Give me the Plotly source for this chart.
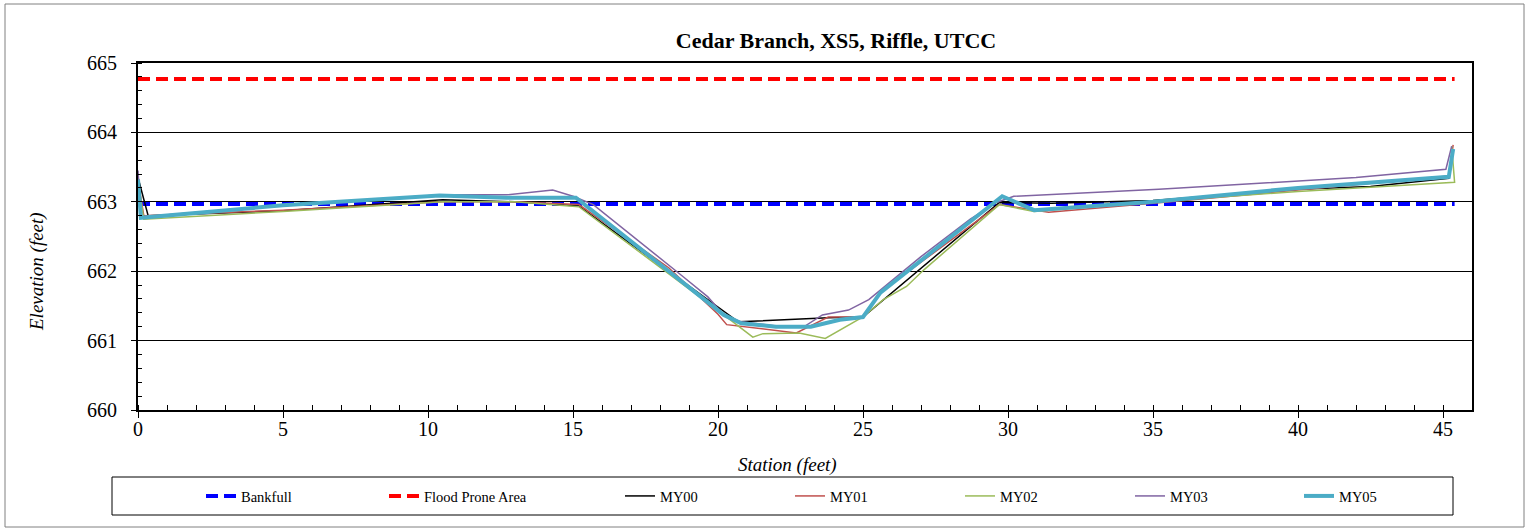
import plotly.graph_objects as go

# ---------------- data ----------------
bankfull_x = [0, 45.4]
bankfull_y = [662.97, 662.97]
flood_x = [0, 45.4]
flood_y = [664.77, 664.77]

my00_x = [0, 0.35, 5, 10.5, 13, 15.2, 20.7, 23.8, 25.0, 25.6, 29.7, 31.5, 35, 40, 42.5, 45.2, 45.35]
my00_y = [663.35, 662.8, 662.87, 663.03, 663.0, 662.94, 661.27, 661.33, 661.34, 661.55, 662.99, 662.98, 663.02, 663.18, 663.22, 663.34, 663.75]

my01_x = [0, 0.2, 5, 10.5, 13, 15.2, 18.3, 20.0, 20.3, 22.7, 23.8, 25.0, 25.6, 29.7, 31.4, 35.6, 40, 45.2, 45.35]
my01_y = [663.3, 662.8, 662.88, 663.0, 663.0, 662.96, 662.05, 661.38, 661.23, 661.11, 661.34, 661.34, 661.7, 662.96, 662.85, 663.0, 663.17, 663.37, 663.82]

my02_x = [0, 0.2, 5, 10.5, 13, 15.2, 20.2, 21.2, 21.55, 22.8, 23.7, 24.4, 25.0, 25.7, 26.5, 27.1, 29.7, 30.9, 35, 40, 45.4, 45.3]
my02_y = [663.3, 662.75, 662.86, 663.0, 663.0, 662.93, 661.37, 661.05, 661.1, 661.11, 661.03, 661.2, 661.34, 661.59, 661.78, 662.02, 662.96, 662.86, 663.0, 663.15, 663.28, 663.8]

my03_x = [0, 0.1, 5, 10.5, 12.7, 14.3, 15.0, 15.7, 18.8, 19.65, 20.2, 20.8, 22.0, 23.0, 23.6, 24.5, 25.2, 27.0, 28.7, 29.6, 30.2, 35.2, 42.0, 45.1, 45.3]
my03_y = [663.45, 662.78, 662.95, 663.1, 663.1, 663.17, 663.08, 662.96, 661.92, 661.63, 661.37, 661.27, 661.21, 661.21, 661.37, 661.44, 661.59, 662.21, 662.75, 662.99, 663.08, 663.18, 663.35, 663.47, 663.8]

my05_x = [0, 0.1, 5, 10.4, 12.7, 15.1, 20.2, 20.8, 22.0, 23.2, 24.2, 25.0, 25.6, 29.8, 30.9, 35, 40, 45.2, 45.35]
my05_y = [663.32, 662.77, 662.95, 663.09, 663.06, 663.06, 661.37, 661.25, 661.2, 661.2, 661.3, 661.34, 661.69, 663.08, 662.88, 663.0, 663.2, 663.36, 663.76]

x_tick_vals = [0, 5, 10, 15, 20, 25, 30, 35, 40, 45]
y_tick_vals = [660, 661, 662, 663, 664, 665]

FONT = "Liberation Serif"

# ---------------- layout constants ----------------
W, H = 1529, 531
ML, MR, MT, MB = 138, 57, 63, 121
PW = W - ML - MR
PH = H - MT - MB

def px2x(px):
    return (px - ML) / PW

def py2y(py):
    return (H - MB - py) / PH

series = [
    ("Bankfull", bankfull_x, bankfull_y, dict(color="#0000FF", width=4, dash="12px,6px"), 243),
    ("Flood Prone Area", flood_x, flood_y, dict(color="#FF0000", width=4, dash="12px,6px"), 426),
    ("MY00", my00_x, my00_y, dict(color="#000000", width=1.5), 662),
    ("MY01", my01_x, my01_y, dict(color="#C0504D", width=1.5), 832),
    ("MY02", my02_x, my02_y, dict(color="#9BBB59", width=1.5), 1002),
    ("MY03", my03_x, my03_y, dict(color="#8064A2", width=1.5), 1172),
    ("MY05", my05_x, my05_y, dict(color="#4BACC6", width=4), 1341),
]

fig = go.Figure()
legends = {}
for i, (name, xs, ys, line, text_px) in enumerate(series):
    key = "legend" if i == 0 else f"legend{i+1}"
    fig.add_trace(go.Scatter(x=xs, y=ys, mode="lines", name=name, line=line,
                             legend=key))
    legends[key] = dict(
        x=px2x(text_px - 42), y=py2y(496), xanchor="left", yanchor="middle",
        bgcolor="rgba(0,0,0,0)", borderwidth=0,
        font=dict(family=FONT, size=14.5, color="black"),
    )

fig.update_layout(
    width=W, height=H,
    margin=dict(l=ML, r=MR, t=MT, b=MB),
    paper_bgcolor="white", plot_bgcolor="white",
    showlegend=True,
    title=dict(text="<b>Cedar Branch, XS5, Riffle, UTCC</b>",
               x=px2x(836), xref="paper", xanchor="center",
               y=1 - 40 / H, yref="container", yanchor="middle",
               font=dict(family=FONT, size=22, color="black")),
    xaxis=dict(range=[0, 46], tickvals=x_tick_vals, showgrid=False, zeroline=False,
               showline=True, linecolor="black", linewidth=2, mirror=True,
               ticks="outside", ticklen=6, tickcolor="black", ticklabelstandoff=-6,
               minor=dict(dtick=1, ticks="inside", ticklen=5, tickcolor="black", showgrid=False),
               tickfont=dict(family=FONT, size=20, color="black")),
    yaxis=dict(range=[660, 665], tickvals=y_tick_vals, showgrid=True, gridcolor="black",
               gridwidth=1, zeroline=False,
               showline=True, linecolor="black", linewidth=2, mirror=True,
               ticks="outside", ticklen=5, tickcolor="black", ticklabelstandoff=10,
               minor=dict(dtick=0.2, ticks="inside", ticklen=4, tickcolor="black", showgrid=False),
               tickfont=dict(family=FONT, size=20, color="black")),
    **legends,
)

# axis titles
fig.add_annotation(text="<i>Station (feet)</i>", xref="paper", yref="paper",
                   x=px2x(787), y=py2y(465), showarrow=False,
                   xanchor="center", yanchor="middle",
                   font=dict(family=FONT, size=19, color="black"))
fig.add_annotation(text="<i>Elevation (feet)</i>", xref="paper", yref="paper",
                   x=px2x(37), y=py2y(272), showarrow=False, textangle=-90,
                   xanchor="center", yanchor="middle",
                   font=dict(family=FONT, size=19, color="black"))

# legend frame and outer chart frame
fig.add_shape(type="rect", xref="paper", yref="paper",
              x0=px2x(112), x1=px2x(1453), y0=py2y(515), y1=py2y(477),
              line=dict(color="black", width=1), fillcolor="rgba(0,0,0,0)", layer="below")
fig.add_shape(type="rect", xref="paper", yref="paper",
              x0=px2x(5), x1=px2x(1524), y0=py2y(527), y1=py2y(4),
              line=dict(color="#808080", width=1), fillcolor="rgba(0,0,0,0)", layer="below")

fig.write_html("out.html", config={"displayModeBar": False},
               post_script="document.body.style.margin='0';document.body.style.overflow='hidden';")
